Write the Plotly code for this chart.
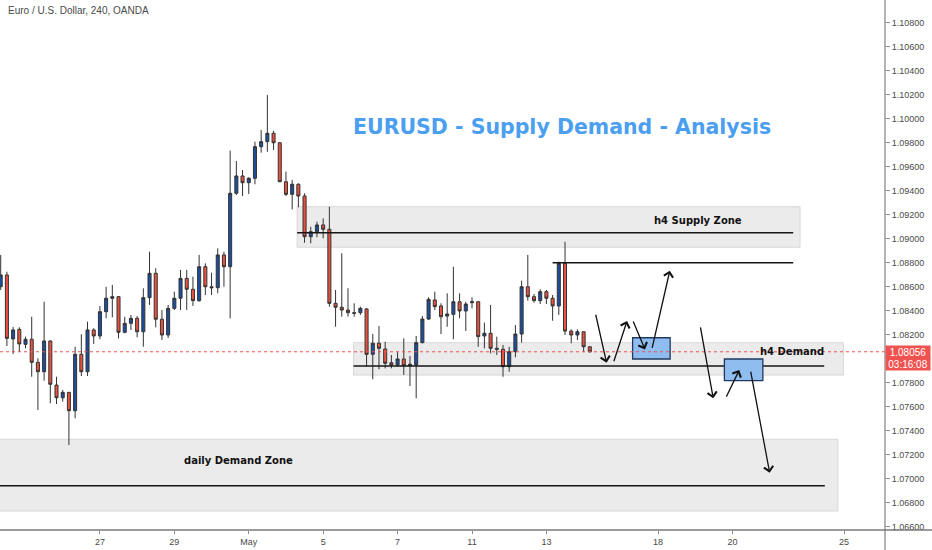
import plotly.graph_objects as go

# EURUSD 4h candles (oldest -> newest)
opens = [1.08598, 1.08696, 1.08163, 1.08243, 1.08118, 1.08160, 1.07968, 1.07890, 1.08146, 1.07779,
         1.07673, 1.07718, 1.07565, 1.08035, 1.07890, 1.08238, 1.08188, 1.08390, 1.08502, 1.08515,
         1.08218, 1.08293, 1.08335, 1.08223, 1.08507, 1.08710, 1.08327, 1.08196, 1.08418, 1.08502,
         1.08668, 1.08577, 1.08482, 1.08765, 1.08598, 1.08590, 1.08863, 1.08765, 1.09377, 1.09521,
         1.09465, 1.09502, 1.09765, 1.09807, 1.09877, 1.09798, 1.09473, 1.09368, 1.09452, 1.09354,
         1.09015, 1.09057, 1.09113, 1.09077, 1.08460, 1.08427, 1.08404, 1.08382, 1.08382, 1.08413,
         1.08035, 1.08127, 1.08079, 1.07965, 1.07946, 1.07996, 1.07940, 1.07946, 1.08132, 1.08329,
         1.08488, 1.08438, 1.08354, 1.08368, 1.08473, 1.08396, 1.08465, 1.08473, 1.08188, 1.08210,
         1.08085, 1.08077, 1.07932, 1.08057, 1.08204, 1.08598, 1.08515, 1.08482, 1.08557, 1.08502,
         1.08438, 1.08793, 1.08229, 1.08196, 1.08223, 1.08098]
highs = [1.08863, 1.08723, 1.08263, 1.08260, 1.08182, 1.08348, 1.08002, 1.08473, 1.08150, 1.07848,
         1.07738, 1.07720, 1.08098, 1.08202, 1.08307, 1.08252, 1.08438, 1.08598, 1.08613, 1.08520,
         1.08348, 1.08363, 1.08354, 1.08585, 1.08890, 1.08752, 1.08404, 1.08446, 1.08557, 1.08738,
         1.08738, 1.08682, 1.08863, 1.08793, 1.08715, 1.08918, 1.08890, 1.09732, 1.09646, 1.09571,
         1.09510, 1.09807, 1.09904, 1.10196, 1.09898, 1.09800, 1.09557, 1.09488, 1.09460, 1.09377,
         1.09098, 1.09140, 1.09168, 1.09265, 1.08571, 1.08877, 1.08585, 1.08460, 1.08432, 1.08418,
         1.08204, 1.08271, 1.08140, 1.08029, 1.08052, 1.08168, 1.08021, 1.08188, 1.08354, 1.08510,
         1.08557, 1.08460, 1.08543, 1.08765, 1.08543, 1.08473, 1.08510, 1.08475, 1.08298, 1.08446,
         1.08182, 1.08113, 1.08098, 1.08279, 1.08648, 1.08863, 1.08538, 1.08577, 1.08571, 1.08529,
         1.08807, 1.08973, 1.08243, 1.08243, 1.08225, 1.08104]
lows = [1.08571, 1.08104, 1.08038, 1.08057, 1.08085, 1.07848, 1.07571, 1.07815, 1.07627, 1.07621,
        1.07640, 1.07279, 1.07502, 1.07854, 1.07854, 1.08121, 1.08160, 1.08335, 1.08343, 1.08168,
        1.08210, 1.08238, 1.08177, 1.08098, 1.08446, 1.08260, 1.08154, 1.08171, 1.08404, 1.08404,
        1.08404, 1.08438, 1.08473, 1.08529, 1.08529, 1.08543, 1.08598, 1.08335, 1.09363, 1.09354,
        1.09371, 1.09452, 1.09715, 1.09723, 1.09738, 1.09470, 1.09354, 1.09243, 1.09260, 1.08965,
        1.08960, 1.09010, 1.09002, 1.08432, 1.08265, 1.08348, 1.08348, 1.08348, 1.08363, 1.07932,
        1.07827, 1.07910, 1.07918, 1.07918, 1.07932, 1.07863, 1.07771, 1.07668, 1.08127, 1.08321,
        1.08404, 1.08204, 1.08265, 1.08160, 1.08335, 1.08229, 1.08418, 1.08098, 1.08085, 1.08043,
        1.08029, 1.07848, 1.07890, 1.08010, 1.08132, 1.08482, 1.08465, 1.08454, 1.08454, 1.08315,
        1.08363, 1.08196, 1.08127, 1.08154, 1.08057, 1.08050]
closes = [1.08696, 1.08168, 1.08238, 1.08121, 1.08160, 1.07968, 1.07890, 1.08146, 1.07785, 1.07673,
          1.07718, 1.07565, 1.08035, 1.07890, 1.08238, 1.08188, 1.08390, 1.08502, 1.08515, 1.08218,
          1.08293, 1.08335, 1.08223, 1.08507, 1.08710, 1.08327, 1.08196, 1.08418, 1.08502, 1.08668,
          1.08577, 1.08482, 1.08765, 1.08598, 1.08590, 1.08863, 1.08765, 1.09377, 1.09521, 1.09465,
          1.09502, 1.09765, 1.09807, 1.09877, 1.09798, 1.09473, 1.09368, 1.09452, 1.09354, 1.09015,
          1.09057, 1.09113, 1.09077, 1.08460, 1.08427, 1.08404, 1.08382, 1.08377, 1.08418, 1.08035,
          1.08127, 1.08085, 1.07960, 1.07946, 1.07996, 1.07940, 1.07952, 1.08132, 1.08329, 1.08493,
          1.08432, 1.08348, 1.08371, 1.08473, 1.08396, 1.08454, 1.08473, 1.08182, 1.08210, 1.08085,
          1.08077, 1.07932, 1.08057, 1.08204, 1.08598, 1.08515, 1.08482, 1.08557, 1.08502, 1.08438,
          1.08793, 1.08229, 1.08196, 1.08223, 1.08098, 1.08056]
bars = list(range(len(closes)))

# day labels on the time axis (bar index where the day starts)
day_labels = ['27', '29', 'May', '5', '7', '11', '13', '18', '20', '25']
day_bars = [16, 28, 40, 52, 64, 76, 88, 106, 118, 136]

# price scale labels (1.08000 sits under the last-price tag)
price_ticks = [1.066, 1.068, 1.070, 1.072, 1.074, 1.076, 1.078, 1.082, 1.084, 1.086, 1.088,
               1.090, 1.092, 1.094, 1.096, 1.098, 1.100, 1.102, 1.104, 1.106, 1.108]

# drawn zones: [start bar, end bar, low, high]
supply_zone = [47.8, 128.9, 1.08927, 1.09265]
h4_demand_zone = [56.9, 135.9, 1.07862, 1.08132]
daily_demand_zone = [-5, 135.0, 1.06729, 1.07327]
# horizontal levels: [start bar, end bar, price]
levels = [[47.8, 127.8, 1.09048],
          [89.0, 127.8, 1.08798],
          [56.9, 132.8, 1.07937],
          [-5, 132.9, 1.06940]]
# blue target boxes
boxes = [[101.9, 107.95, 1.07996, 1.08173],
         [116.7, 122.9, 1.07815, 1.07996]]
# projected path arrows: [from bar, from price, to bar, to price]
arrows = [[95.9, 1.08377, 97.7, 1.07965],
          [98.8, 1.07965, 101.0, 1.08312],
          [101.9, 1.08321, 103.9, 1.08076],
          [105.0, 1.08076, 107.9, 1.08732],
          [112.8, 1.08271, 114.9, 1.07668],
          [116.9, 1.07668, 119.1, 1.07904],
          [120.9, 1.07904, 124.0, 1.07048]]
# text labels: [bar, price, text]
zone_labels = [[112.5, 1.09154, 'h4 Supply Zone'],
               [127.6, 1.08062, 'h4 Demand'],
               [38.3, 1.07146, 'daily Demand Zone']]

fig = go.Figure(go.Candlestick(
    x=bars, open=opens, high=highs, low=lows, close=closes,
    increasing=dict(fillcolor='#1d4e9e', line=dict(color='#333333', width=1)),
    decreasing=dict(fillcolor='#e9513e', line=dict(color='#333333', width=1)),
    whiskerwidth=0, hoverinfo='skip'))

for z in [supply_zone, h4_demand_zone, daily_demand_zone]:
    fig.add_shape(type='rect', x0=z[0], x1=z[1], y0=z[2], y1=z[3], layer='below',
                  fillcolor='#ebebeb', line=dict(color='#d8d8d8', width=1))
for lv in levels:
    fig.add_shape(type='line', x0=lv[0], x1=lv[1], y0=lv[2], y1=lv[2],
                  line=dict(color='#161616', width=1.6))
for b in boxes:
    fig.add_shape(type='rect', x0=b[0], x1=b[1], y0=b[2], y1=b[3],
                  fillcolor='#8fbdf0', line=dict(color='#1f3a60', width=1.3))

for a in arrows:
    fig.add_annotation(x=a[2], y=a[3], ax=a[0], ay=a[1], xref='x', yref='y', axref='x', ayref='y',
                       text='', showarrow=True, arrowhead=4, arrowsize=1.4, arrowwidth=1.3,
                       arrowcolor='#111111', standoff=0, startstandoff=0)

for lb in zone_labels:
    fig.add_annotation(x=lb[0], y=lb[1], text='<b>' + lb[2] + '</b>', showarrow=False,
                       font=dict(family='DejaVu Sans', size=10, color='#111111'))

fig.add_annotation(x=90.5, y=1.09929, text='<b>EURUSD - Supply Demand - Analysis</b>', showarrow=False,
                   font=dict(family='DejaVu Sans', size=20.5, color='#4b9ff0'))

fig.add_annotation(xref='paper', yref='paper', x=6 / 885, y=1 - 11 / 530, xanchor='left', yanchor='middle',
                   text='Euro / U.S. Dollar, 240, OANDA', showarrow=False,
                   font=dict(family='Liberation Sans', size=10, color='#4a4a4a'))

# last price line and label
last = closes[-1]
fig.add_shape(type='line', xref='paper', x0=0, x1=1, y0=last, y1=last,
              line=dict(color='#ef5350', width=1, dash='dot'))
fig.add_annotation(xref='paper', x=1, y=last, xanchor='left', yanchor='middle', text='%.5f' % last,
                   showarrow=False, bgcolor='#ef5350', width=44, height=12, borderpad=0,
                   font=dict(family='Liberation Sans', size=10, color='white'))
fig.add_annotation(xref='paper', x=1, y=last, xanchor='left', yanchor='middle', yshift=-12.5,
                   text='03:16:08', showarrow=False, bgcolor='#ef5350', width=44, height=12,
                   borderpad=0, font=dict(family='Liberation Sans', size=10, color='white'))

# axis borders running through the margins
fig.add_shape(type='line', xref='paper', yref='paper', x0=1, x1=1, y0=-20 / 530, y1=1,
              line=dict(color='#8c8c8c', width=1.3))
fig.add_shape(type='line', xref='paper', yref='paper', x0=0, x1=932 / 885, y0=0, y1=0,
              line=dict(color='#7a7a7a', width=1.3))

fig.update_layout(
    width=932, height=550,
    margin=dict(l=0, r=47, t=0, b=20),
    paper_bgcolor='white', plot_bgcolor='white',
    showlegend=False, hovermode=False,
    xaxis=dict(range=[-0.113, 142.6], rangeslider=dict(visible=False), showgrid=False, zeroline=False,
               tickmode='array', tickvals=day_bars, ticktext=day_labels,
               ticks='outside', ticklen=3, tickcolor='#888888',
               tickfont=dict(family='Liberation Sans', size=9, color='#4a4a4a')),
    yaxis=dict(range=[1.065708, 1.109875], side='right', showgrid=False, zeroline=False,
               tickmode='array', tickvals=price_ticks, tickformat='.5f',
               ticks='outside', ticklen=4, tickcolor='#888888',
               tickfont=dict(family='Liberation Sans', size=9, color='#4a4a4a')),
)

# page body has a default margin; drop it so the 932x550 figure fills the window
fig.write_html("out.html", config={'displayModeBar': False},
               post_script="document.body.style.margin='0';")
